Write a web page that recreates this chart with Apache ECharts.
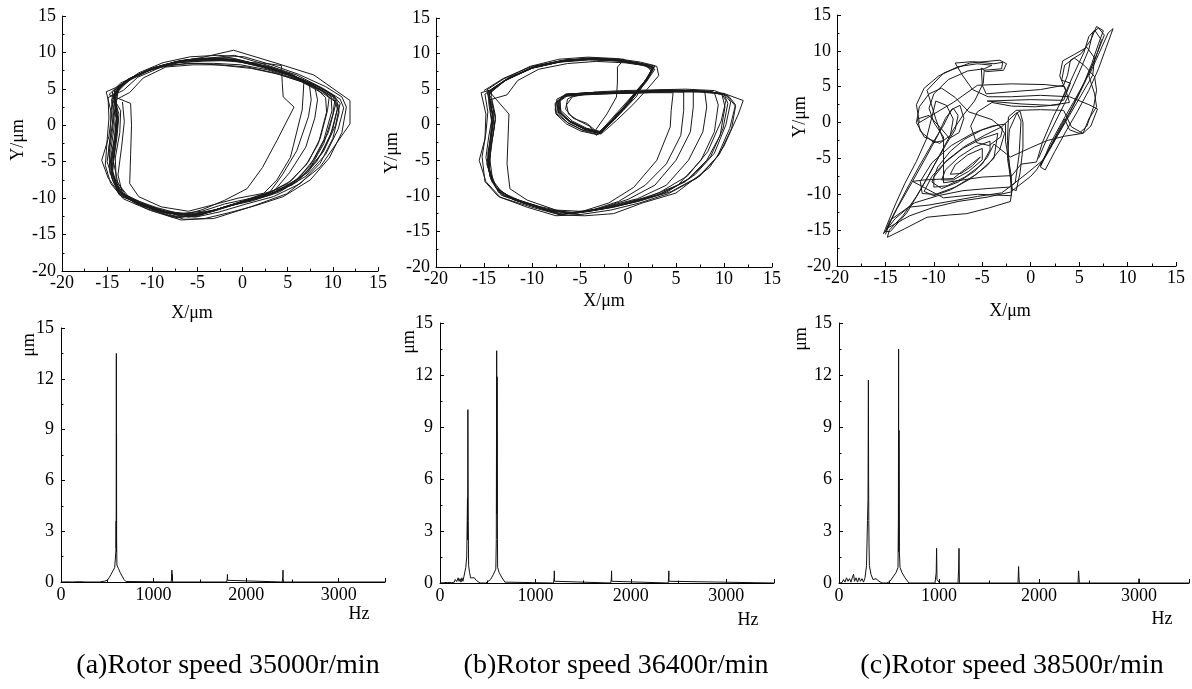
<!DOCTYPE html>
<html><head><meta charset="utf-8">
<script src="https://cdn.jsdelivr.net/npm/echarts@6/dist/echarts.min.js"></script>
<style>html,body{margin:0;padding:0;background:#fff}#c{width:1192px;height:689px}</style>
</head><body><div id="c"></div>
<script>
// ---------- axis ranges / tick labels ----------
const orbitRange = [-20, 15];
const orbitStep = 5;
const freqRange = [0, 3500];
const freqStep = 1000;
const ampRange = [0, 15];
const ampStep = 3;
const captions = ['(a)Rotor speed 35000r/min', '(b)Rotor speed 36400r/min', '(c)Rotor speed 38500r/min'];
const orbitXName = 'X/μm', orbitYName = 'Y/μm', specXName = 'Hz', specYName = 'μm';

// ---------- orbit (a) 35000 r/min : [X, Y] in μm ----------
const orbitA = [
[-14.2,4.0],[-13.0,6.0],[-10.5,7.6],[-7.5,8.7],[-4.5,9.3],[-1.0,10.3],[3.8,8.5],[7.9,6.9],[11.9,3.4],[11.9,0.2],[8.6,-5.7],[4.9,-9.4],[0.9,-11.2],[-3.2,-12.8],[-6.5,-12.9],[-10.0,-11.4],[-13.4,-9.8],[-14.9,-7.2],[-15.6,-4.8],[-14.8,-1.5],[-14.5,1.5],[-15.1,4.6],
[-14.0,5.2],[-12.2,6.6],[-9.6,8.0],[-6.6,8.9],[-3.5,9.0],[-0.5,8.7],[2.5,8.5],[4.3,8.2],[4.4,5.7],[4.5,3.9],[5.7,2.5],[3.8,-2.1],[2.2,-5.8],[0.5,-8.7],[-2.0,-10.3],[-4.5,-11.6],[-6.5,-12.3],[-9.5,-11.3],[-12.5,-10.0],[-13.8,-8.0],[-14.3,-5.0],[-13.9,-1.5],[-13.7,1.5],[-14.2,3.8],
[-13.6,5.5],[-11.5,7.0],[-8.8,8.3],[-5.5,9.1],[-2.5,9.2],[0.5,8.7],[3.5,7.8],[6.8,6.2],[6.7,4.0],[6.6,2.1],[5.3,-4.4],[3.8,-7.5],[2.3,-9.4],[-0.5,-10.6],[-3.5,-11.9],[-6.0,-12.6],[-9.0,-11.8],[-12.0,-10.5],[-13.9,-8.8],[-14.6,-5.5],[-14.2,-2.0],[-14.0,1.0],[-14.5,3.5],
[-13.8,5.0],[-11.8,6.8],[-9.2,8.1],[-6.0,9.0],[-3.0,9.1],[0.0,8.8],[3.0,7.9],[5.8,6.6],[8.0,5.3],[8.3,3.5],[8.0,1.0],[7.0,-3.0],[5.2,-6.5],[3.5,-9.0],[0.5,-10.3],[-2.5,-11.4],[-5.0,-12.4],[-8.0,-12.1],[-11.0,-11.0],[-13.2,-9.6],[-14.4,-7.0],[-14.6,-3.5],[-14.2,0.0],[-14.4,3.2],
[-14.1,4.8],[-12.6,6.4],[-10.1,7.8],[-7.2,8.8],[-4.2,9.0],[-1.2,9.0],[2.0,8.0],[5.0,6.9],[8.2,5.0],[9.2,3.8],[9.3,1.8],[8.4,-2.5],[7.0,-5.5],[5.0,-8.0],[2.0,-9.8],[-1.0,-10.8],[-4.0,-12.0],[-6.8,-12.5],[-10.2,-11.2],[-13.0,-9.8],[-14.2,-7.5],[-14.8,-4.0],[-14.4,-0.5],[-14.1,2.5],
[-14.3,4.3],[-12.8,6.2],[-10.3,7.7],[-7.3,8.6],[-4.3,8.8],[-1.3,8.9],[1.8,8.2],[5.2,7.0],[8.3,5.2],[9.8,4.0],[9.9,2.0],[9.0,-2.0],[7.5,-5.5],[5.5,-8.0],[2.8,-9.6],[-0.3,-10.7],[-3.3,-11.7],[-6.0,-12.2],[-9.0,-11.7],[-12.0,-10.6],[-13.8,-9.0],[-14.6,-6.0],[-14.2,-2.5],[-13.8,0.8],[-14.1,3.0],
[-13.9,4.9],[-12.3,6.5],[-9.8,7.9],[-6.8,8.9],[-3.8,9.1],[-0.8,9.1],[2.2,8.1],[5.5,6.9],[8.6,5.2],[10.2,3.9],[10.5,2.2],[9.7,-1.5],[8.2,-5.0],[6.0,-7.8],[3.0,-9.6],[0.2,-10.5],[-2.8,-11.6],[-5.6,-12.4],[-8.5,-12.0],[-11.5,-10.8],[-13.6,-9.4],[-14.7,-6.5],[-14.8,-3.0],[-14.4,0.3],[-14.5,2.8],
[-14.4,4.6],[-12.9,6.1],[-10.4,7.6],[-7.4,8.7],[-4.4,9.2],[-1.4,9.3],[1.6,8.4],[4.8,7.2],[8.0,5.6],[10.0,4.2],[10.8,3.0],[10.3,0.0],[9.0,-3.5],[7.2,-6.5],[4.5,-8.8],[1.5,-10.1],[-1.5,-11.0],[-4.5,-12.2],[-7.2,-12.7],[-10.5,-11.5],[-13.3,-9.7],[-14.3,-7.8],[-15.0,-5.0],[-14.6,-1.0],[-14.6,2.0],
[-14.0,4.4],[-12.4,6.4],[-9.9,7.8],[-6.9,8.8],[-3.9,9.2],[-0.9,9.6],[2.6,8.3],[6.0,6.9],[9.0,5.0],[10.8,3.6],[11.2,2.4],[10.6,-0.5],[9.2,-4.0],[7.0,-7.0],[4.0,-9.2],[1.0,-10.4],[-2.0,-11.2],[-5.0,-12.5],[-7.8,-12.6],[-11.0,-11.0],[-13.7,-9.5],[-14.5,-7.2],[-14.6,-4.5],[-14.1,-1.0],[-13.9,1.8],
[-14.2,4.8],[-12.7,6.3],[-10.2,7.7],[-7.1,8.7],[-4.1,9.0],[-1.1,9.1],[2.0,8.2],[5.1,7.0],[8.2,5.4],[10.0,4.1],[10.3,2.8],[9.5,-1.0],[8.0,-4.5],[6.2,-7.3],[3.2,-9.4],[0.3,-10.4],[-2.7,-11.5],[-5.4,-12.2],[-8.3,-11.9],[-11.3,-10.7],[-13.5,-9.2],[-14.4,-6.8],[-14.3,-3.3],[-13.9,0.2],[-14.2,3.3],
[-14.1,4.6],[-12.5,6.2],[-10.0,7.7],[-7.0,8.6],[-4.0,8.9],[-1.0,8.9],[2.3,8.0],[5.3,6.8],[8.5,5.0],[9.6,3.9],[9.4,2.0],[8.6,-1.8],[7.3,-5.0],[5.4,-7.6],[2.6,-9.5],[-0.2,-10.6],[-3.2,-11.8],[-5.8,-12.3],[-8.8,-11.8],[-11.8,-10.6],[-13.7,-9.0],[-14.5,-6.2],[-14.1,-2.8],[-13.8,0.5],[-14.0,3.0],
[-13.7,5.3],[-11.9,6.8],[-9.4,8.0],[-6.3,9.0],[-3.3,9.2],[-0.3,8.9],[2.8,8.1],[5.5,7.0],[7.4,5.6],[7.6,3.5],[7.3,1.2],[6.0,-3.5],[4.4,-6.8],[3.0,-9.2],[0.0,-10.5],[-3.0,-11.6],[-5.7,-12.4],[-8.7,-12.0],[-11.7,-10.8],[-13.6,-9.2],[-14.4,-6.3],[-14.1,-2.5],[-13.9,0.8],[-14.2,3.4],
[-12.5,4.5],[-11.0,6.5],[-8.5,8.0],[-5.5,8.3],[-2.5,8.3],[0.5,8.0],[3.5,7.2],[6.5,6.0],[9.0,4.3],[10.2,3.3],[10.0,1.5],[9.0,-2.5],[7.5,-5.8],[5.5,-8.2],[2.5,-9.3],[-0.5,-10.0],[-3.5,-11.0],[-6.0,-11.8],[-9.0,-11.2],[-11.5,-9.8],[-12.5,-8.0],[-12.4,-4.0],[-12.3,0.0],[-12.4,3.0],
[-14.8,4.2],[-13.5,5.8],[-11.0,7.3],[-8.0,8.3],[-5.0,8.5],[-2.0,8.2],[1.0,7.8],[4.0,7.0],[7.0,5.8],[9.5,4.2],[10.6,2.8],[10.0,-0.5],[8.8,-3.8],[6.8,-6.8],[4.0,-9.0],[1.0,-10.0],[-2.0,-10.8],[-4.5,-11.8],[-7.5,-12.2],[-10.5,-11.0],[-13.0,-9.5],[-14.0,-7.5],[-14.1,-4.5],[-13.6,-1.0],[-13.5,2.0],[-14.2,3.5],
[-13.4,5.6],[-11.5,7.2],[-8.8,8.6],[-5.8,9.4],[-2.8,9.6],[0.2,9.4],[3.2,8.3],[6.2,7.0],[9.2,5.3],[11.0,3.9],[11.5,2.5],[11.0,-1.0],[9.6,-4.5],[7.5,-7.5],[4.5,-9.8],[1.5,-11.0],[-1.5,-12.0],[-4.2,-12.8],[-6.8,-13.0],[-10.2,-11.7],[-13.2,-10.1],[-14.6,-8.0],[-15.2,-5.5],[-15.0,-2.0],[-14.8,1.0],[-14.9,3.8],
[-13.2,4.8],[-11.6,6.6],[-9.0,8.0],[-6.2,8.5],[-3.2,8.5],[-0.2,8.3],[2.8,7.6],[5.8,6.4],[8.8,4.8],[10.4,3.6],[10.7,1.8],[10.0,-1.8],[8.6,-5.2],[6.4,-8.0],[3.4,-9.8],[0.4,-10.8],[-2.6,-11.9],[-5.2,-12.6],[-8.2,-12.4],[-11.2,-11.0],[-13.3,-9.4],[-13.8,-6.8],[-13.4,-3.0],[-13.1,0.5],[-13.3,3.2]
];

// ---------- orbit (b) 36400 r/min ----------
const orbitB = [
[-15.0,4.8],[-13.0,6.5],[-10.0,8.2],[-7.0,9.0],[-4.0,9.4],[-1.0,9.2],[1.5,8.6],[3.0,8.2],[3.2,6.9],[2.0,5.0],[0.5,2.8],[-1.2,0.6],[-2.8,-1.3],[-4.8,-0.7],[-6.3,0.3],[-7.6,2.0],[-7.4,3.6],[-6.4,4.3],[-3.5,4.4],[0.0,4.6],[3.5,4.9],[7.0,4.8],[10.0,4.4],[12.0,3.4],[11.5,1.5],[10.0,-3.0],[8.5,-6.0],[5.0,-9.6],[1.5,-11.0],[-1.5,-12.5],[-4.5,-12.8],[-7.0,-12.7],[-10.0,-11.6],[-13.3,-10.2],[-14.8,-8.0],[-15.5,-5.0],[-14.9,-2.0],[-14.8,1.5],[-15.3,4.5],
[-14.3,4.9],[-12.6,6.4],[-9.8,8.1],[-6.8,9.0],[-3.8,9.2],[-0.8,8.9],[1.8,8.3],[2.6,7.7],[1.3,5.3],[0.3,3.3],[-1.4,0.7],[-2.9,-1.2],[-4.6,-0.5],[-6.1,0.5],[-7.1,1.9],[-7.2,3.2],[-6.3,4.1],[-3.8,4.3],[-0.5,4.4],[2.5,4.5],[4.7,4.5],[4.5,2.0],[4.4,-0.3],[3.0,-5.0],[0.6,-8.8],[-2.0,-11.0],[-4.8,-12.2],[-6.8,-12.6],[-9.8,-11.3],[-12.9,-9.9],[-14.1,-7.8],[-14.4,-4.8],[-14.1,-1.8],[-13.8,1.2],[-14.2,3.7],
[-14.6,4.4],[-12.9,6.2],[-10.1,7.9],[-7.1,8.8],[-4.1,9.1],[-1.1,9.0],[1.4,8.4],[2.5,7.9],[2.0,6.3],[0.9,4.6],[-0.2,2.8],[-1.7,0.6],[-3.0,-1.0],[-4.4,-0.7],[-5.9,0.3],[-7.0,1.7],[-7.1,3.4],[-6.5,4.2],[-4.2,4.5],[-1.2,4.6],[2.2,4.7],[5.8,4.6],[5.8,2.0],[5.5,-1.5],[4.0,-5.5],[1.8,-8.5],[-1.0,-10.8],[-3.5,-11.9],[-6.2,-12.4],[-9.2,-11.5],[-12.2,-10.3],[-13.9,-8.6],[-14.7,-5.6],[-14.4,-2.6],[-14.2,0.4],[-14.5,3.0],
[-14.4,4.7],[-12.7,6.3],[-9.9,8.0],[-6.9,8.9],[-3.9,9.3],[-0.9,9.1],[1.6,8.5],[2.7,8.1],[2.1,6.6],[1.1,4.9],[0.1,3.1],[-1.4,0.9],[-2.8,-1.1],[-4.5,-0.5],[-6.0,0.5],[-7.3,1.9],[-7.4,3.3],[-6.5,4.3],[-4.0,4.5],[-0.8,4.6],[2.5,4.7],[6.8,4.7],[6.8,2.5],[6.5,-1.0],[5.0,-5.0],[2.8,-8.5],[0.0,-10.5],[-3.0,-11.8],[-5.8,-12.5],[-8.8,-11.8],[-11.8,-10.5],[-13.7,-9.0],[-14.5,-6.5],[-14.3,-3.2],[-13.9,-0.2],[-14.3,2.8],
[-14.2,5.0],[-12.4,6.6],[-9.6,8.2],[-6.6,9.1],[-3.6,9.3],[-0.6,9.0],[1.9,8.4],[2.8,7.8],[1.9,6.0],[0.8,4.2],[-0.4,2.3],[-1.9,0.3],[-3.1,-1.4],[-4.7,-0.8],[-6.2,0.2],[-7.5,1.6],[-7.5,3.1],[-6.6,4.0],[-4.3,4.3],[-1.3,4.4],[2.0,4.6],[5.5,4.7],[8.0,4.6],[8.2,2.5],[7.8,-1.0],[6.3,-5.0],[4.0,-8.5],[1.0,-10.4],[-2.2,-11.5],[-5.2,-12.4],[-8.2,-12.0],[-11.2,-10.7],[-13.5,-9.3],[-14.4,-7.2],[-14.6,-4.0],[-14.2,-1.0],[-14.0,2.0],
[-14.6,4.5],[-12.9,6.1],[-10.2,7.9],[-7.2,8.8],[-4.2,9.2],[-1.2,9.1],[1.3,8.6],[2.5,8.1],[2.2,6.8],[1.2,5.0],[0.2,3.2],[-1.3,1.0],[-2.7,-1.0],[-4.3,-0.5],[-5.8,0.5],[-7.0,2.0],[-7.1,3.5],[-6.2,4.3],[-3.8,4.5],[-0.7,4.6],[2.7,4.8],[6.2,4.8],[9.0,4.5],[9.4,2.8],[9.0,-1.0],[7.6,-5.0],[5.2,-8.5],[2.0,-10.2],[-1.0,-11.2],[-4.0,-12.2],[-7.2,-12.6],[-10.2,-11.3],[-13.2,-9.9],[-14.3,-7.6],[-14.8,-4.6],[-14.5,-1.6],[-14.1,1.4],[-14.5,3.8],
[-14.3,4.6],[-12.6,6.4],[-9.8,8.1],[-6.8,9.0],[-3.8,9.3],[-0.8,9.1],[1.7,8.5],[2.7,8.0],[2.0,6.4],[1.0,4.7],[0.0,2.9],[-1.5,0.7],[-2.9,-1.3],[-4.6,-0.6],[-6.1,0.4],[-7.3,1.8],[-7.3,3.3],[-6.4,4.2],[-3.9,4.4],[-0.9,4.5],[2.1,4.6],[5.6,4.8],[8.6,4.7],[9.8,4.2],[10.1,2.5],[9.6,-1.5],[8.2,-5.0],[6.0,-8.0],[3.0,-9.9],[0.0,-11.0],[-3.0,-11.9],[-6.0,-12.5],[-9.0,-11.8],[-12.0,-10.5],[-13.8,-8.8],[-14.6,-5.8],[-14.4,-2.8],[-14.0,0.3],[-14.3,3.0],
[-14.5,4.3],[-12.8,6.2],[-10.1,8.0],[-7.1,8.9],[-4.1,9.2],[-1.1,9.0],[1.4,8.5],[2.6,8.1],[2.0,6.6],[1.0,4.8],[-0.1,3.0],[-1.6,0.8],[-3.0,-1.2],[-4.5,-0.6],[-6.0,0.4],[-7.2,1.8],[-7.3,3.3],[-6.4,4.2],[-4.0,4.4],[-1.0,4.5],[2.0,4.6],[5.0,4.8],[8.0,4.7],[10.0,4.3],[10.7,3.2],[10.2,0.0],[9.0,-4.0],[7.0,-7.0],[4.0,-9.5],[1.0,-10.8],[-2.0,-11.7],[-5.0,-12.3],[-7.0,-12.6],[-10.0,-11.4],[-13.0,-10.0],[-14.2,-8.0],[-14.6,-5.0],[-14.3,-2.0],[-14.0,1.0],[-14.4,3.5],
[-12.6,4.2],[-11.5,6.2],[-9.3,7.8],[-6.3,8.6],[-3.3,8.9],[-0.3,8.7],[1.9,8.3],[2.4,7.6],[1.7,6.0],[0.6,4.3],[-0.6,2.5],[-2.0,0.4],[-3.2,-1.4],[-4.9,-0.9],[-6.4,0.1],[-7.5,1.5],[-7.6,3.0],[-6.7,4.0],[-4.4,4.2],[-1.4,4.4],[1.8,4.5],[5.2,4.7],[8.3,4.7],[10.3,4.1],[11.2,2.6],[10.8,-0.5],[9.5,-4.2],[7.5,-7.2],[4.5,-9.4],[1.5,-10.6],[-1.5,-11.6],[-4.5,-12.2],[-7.5,-12.0],[-10.5,-10.6],[-12.3,-9.0],[-12.6,-5.5],[-12.5,-2.0],[-12.4,1.5],
[-14.4,4.6],[-12.7,6.3],[-9.9,8.0],[-6.9,8.9],[-3.9,9.2],[-0.9,9.0],[1.6,8.5],[2.7,8.0],[1.8,6.2],[0.7,4.5],[-0.3,2.7],[-1.8,0.5],[-3.0,-1.1],[-4.6,-0.5],[-6.1,0.5],[-7.2,1.9],[-7.2,3.4],[-6.3,4.3],[-3.9,4.5],[-0.9,4.6],[2.1,4.7],[5.1,4.8],[8.1,4.7],[10.0,4.3],[10.4,3.0],[9.9,-0.5],[8.6,-4.5],[6.5,-7.5],[3.5,-9.7],[0.5,-10.9],[-2.5,-11.8],[-5.5,-12.4],[-8.0,-12.2],[-11.0,-11.0],[-13.5,-9.5],[-14.4,-7.0],[-14.4,-3.5],[-14.1,-0.2],[-14.4,2.8],
[-14.7,4.9],[-13.0,6.4],[-10.2,8.2],[-7.2,9.2],[-4.2,9.5],[-1.2,9.3],[1.3,8.8],[2.8,8.3],[2.3,7.0],[1.5,5.5],[0.9,4.0],[-0.5,2.0],[-2.0,0.0],[-3.3,-1.5],[-4.0,-0.2],[-5.2,0.6],[-6.2,1.5],[-6.4,2.8],[-5.8,3.9],[-3.5,4.6],[-0.5,4.8],[2.8,4.9],[6.0,5.0],[9.0,4.8],[10.5,4.0],[11.2,2.8],[10.6,-0.5],[9.3,-4.5],[7.2,-7.5],[4.2,-9.7],[1.2,-11.0],[-1.8,-12.0],[-4.8,-12.6],[-7.5,-12.8],[-10.5,-11.6],[-13.5,-10.1],[-14.9,-8.0],[-15.2,-4.5],[-14.8,-1.2],[-14.6,1.8],[-14.9,4.3],
[-14.0,5.2],[-12.2,6.8],[-9.4,8.3],[-6.4,9.1],[-3.4,9.3],[-0.4,9.2],[-1.1,8.1],[-1.1,6.0],[-1.2,3.9],[-2.2,1.5],[-3.4,-0.8],[-4.3,0.2],[-5.7,0.9],[-6.5,2.2],[-6.3,3.6],[-5.4,4.3],[-2.8,4.4],[0.6,4.5],[4.0,4.6],[7.5,4.6],[9.8,4.3],[10.2,3.4],[9.7,0.5],[8.3,-3.8],[6.2,-7.2],[3.2,-9.6],[0.2,-10.9],[-2.8,-11.9],[-5.8,-12.5],[-8.8,-11.9],[-11.8,-10.6],[-13.7,-8.9],[-14.5,-6.0],[-14.2,-2.4],[-13.8,0.7],[-14.2,3.4]
];

// ---------- orbit (c) 38500 r/min ----------
const orbitC = [
[-15.0,-15.6],[-14.3,-13.2],[-13.0,-9.8],[-11.6,-6.3],[-10.2,-3.0],[-9.0,-0.4],[-8.2,1.8],[-7.3,2.4],[-6.9,0.6],[-7.4,-1.4],[-8.4,-2.2],[-9.2,-0.9],
[-10.5,1.0],[-11.7,0.5],[-11.4,-1.2],[-10.0,-2.8],[-9.0,-2.5],[-9.8,0.5],[-10.7,4.5],[-9.0,6.9],[-6.3,8.3],[-3.2,8.7],[-2.5,8.2],[-2.8,7.3],[-4.6,7.1],[-5.1,7.6],[-5.0,5.2],[-4.6,4.0],
[-2.0,4.3],[1.0,4.6],[3.4,5.2],[3.8,6.6],[4.1,8.7],[5.2,9.6],[6.2,11.5],[6.8,13.4],[7.5,12.8],[7.0,11.0],[6.3,8.2],[5.5,5.5],[4.4,2.8],[3.2,0.0],[2.0,-3.0],[1.0,-6.2],[1.5,-6.6],[2.5,-4.0],[3.6,-1.3],[4.8,1.5],[6.0,4.5],[7.0,7.5],[7.8,10.5],[8.5,13.1],
[8.0,12.5],[7.0,9.5],[6.0,6.5],[6.6,4.0],[6.8,2.2],[6.0,0.5],[5.4,-1.5],[4.2,-0.6],[3.4,1.7],
[1.0,1.8],[-1.5,1.7],[-2.3,0.8],[-2.4,-2.5],[-2.2,-6.0],[-2.0,-9.2],[-1.5,-9.5],[-1.1,-7.0],[-0.8,-3.5],[-0.8,0.0],[-1.1,1.6],[-1.6,1.2],
[-3.0,-0.6],[-4.8,-1.8],[-6.8,-3.3],[-8.6,-5.2],[-10.2,-7.5],[-11.0,-9.6],[-10.0,-10.2],[-8.3,-9.4],[-6.3,-7.9],[-4.5,-6.0],[-3.2,-3.8],[-2.7,-1.5],[-3.3,-0.3],[-5.0,-1.0],[-6.8,-2.3],[-8.3,-4.0],[-9.6,-6.2],[-10.2,-8.3],[-9.2,-9.2],[-7.5,-8.3],[-5.8,-6.8],[-4.5,-4.9],[-3.8,-3.0],
[-2.1,-4.8],[0.0,-3.5],[1.7,-2.5],[3.5,-1.9],[5.4,-1.5],[6.2,-0.5],[6.9,1.9],[6.0,2.5],[4.0,3.6],[1.0,3.8],[-2.0,3.6],[-4.4,3.6],[-6.0,4.6],[-7.0,6.5],[-7.8,8.3],[-6.0,8.5],[-3.8,8.2],[-2.9,8.4],[-3.0,7.5],[-4.8,7.3],[-4.9,5.5],[-5.8,3.0],[-7.0,1.0],[-8.0,-1.0],[-9.0,-3.5],[-10.3,-6.8],[-11.8,-10.3],[-13.2,-13.0],[-14.6,-15.0],[-14.8,-16.0],[-13.0,-14.8],[-10.7,-13.2],[-8.5,-12.9],[-6.6,-12.7],[-4.3,-11.9],[-2.1,-11.0],[-1.9,-9.2],[-2.4,-5.0],[-2.2,-1.0],[-1.4,1.4],[-1.0,0.2],[-1.2,-4.5],[-1.6,-8.4],[-2.2,-9.0],[-4.5,-9.2],[-7.0,-9.5],[-9.6,-10.2],[-12.0,-11.2],[-14.5,-13.6],[-14.9,-14.8],[-12.5,-13.0],[-10.0,-11.8],[-7.5,-11.0],[-4.5,-10.4],[-2.1,-9.7],
[0.0,-7.5],[0.6,-6.6],[1.8,-4.0],[2.9,-1.5],[4.0,1.0],[5.2,3.8],[6.4,6.6],[6.6,9.0],[5.8,10.5],[4.5,9.5],[3.3,8.6],[3.0,6.5],[3.6,4.5],[3.0,2.5],[0.5,2.2],[-2.0,2.3],[-4.0,2.8],[-5.5,1.5],[-6.2,-0.5],[-5.6,-2.8],[-4.3,-3.2],[-3.1,-2.0],[-2.9,-0.8],[-4.0,0.4],
[-6.4,1.5],[-7.8,3.5],[-9.2,4.8],[-10.5,4.0],[-11.5,2.2],[-11.8,0.0],[-11.0,-2.0],[-9.4,-2.9],[-8.3,-1.8],[-8.0,0.5],[-8.7,2.4],[-9.8,3.0],[-10.2,0.8],[-10.8,-2.4],[-11.8,-5.4],[-13.0,-8.5],[-14.0,-11.5],[-15.0,-14.8],[-15.2,-15.5],[-14.0,-13.4],[-12.6,-11.8],[-10.5,-11.5],[-8.0,-10.9],[-5.5,-10.3],[-3.0,-9.8],[-2.2,-9.0],
[-0.5,-7.2],[1.3,-5.2],[2.8,-1.5],[4.3,2.2],[5.6,5.8],[6.7,9.0],[7.3,11.5],[6.6,12.9],[6.0,12.0],[5.5,9.8],[4.6,7.2],[3.6,4.2],[2.4,1.0],[1.2,-2.8],[0.6,-5.5],[-1.0,-5.8],[-2.0,-7.5],
[-2.6,-2.6],[-2.6,-0.2],[-4.0,-0.5],[-6.0,-1.5],[-8.2,-3.2],[-10.2,-5.6],[-11.4,-8.2],[-11.2,-9.9],[-9.8,-10.0],[-7.8,-9.0],[-5.6,-7.2],[-3.8,-5.0],[-3.4,-1.5],[-5.0,-2.2],[-7.0,-3.6],[-8.8,-5.5],[-10.0,-7.6],[-10.0,-9.0],[-8.6,-8.8],[-6.8,-7.6],[-5.0,-5.8],[-4.2,-3.8],[-4.2,-2.6],[-5.8,-3.4],[-7.4,-4.8],[-8.8,-6.6],[-9.2,-8.0],[-8.0,-8.0],[-6.4,-6.8],[-5.0,-5.2],[-5.0,-3.6],[-6.5,-4.5],[-7.8,-5.9],[-8.3,-7.2],[-7.2,-7.1],[-6.0,-6.0],[-5.2,-4.8],
[-8.0,-7.8],[-11.0,-8.0],[-12.2,-8.2],[-13.8,-12.0],[-15.0,-15.2],[-14.5,-15.2],[-12.8,-12.6],[-11.2,-9.0],[-10.0,-6.0],[-8.8,-3.2],[-7.8,-1.0],[-7.5,1.0],[-8.0,2.0],[-8.8,0.6],[-9.6,-1.8],[-10.8,-4.8],[-12.2,-8.2],
[-9.0,-10.5],[-5.5,-10.0],[-2.0,-10.2],[-2.0,-7.4],[-5.0,-7.6],[-9.0,-8.4],
[-9.0,-2.0],[-10.0,0.0],[-10.5,2.0],[-10.0,4.0],[-8.5,6.0],[-6.5,7.2],[-4.8,7.5],[-4.0,8.0],[-5.5,8.2],[-7.5,7.8],[-9.5,6.5],[-11.0,4.8],[-11.8,2.5],[-11.5,0.0],
[-8.0,2.8],[-5.5,5.2],[-2.0,5.4],[1.5,5.3],[3.5,5.0],[4.0,2.8],[2.0,2.4],[-1.0,2.6],[-4.5,3.0],
[0.0,3.2],[3.4,3.1],[4.1,5.5],[3.2,5.9],[3.5,8.0],[4.5,9.0],[5.5,8.0],[6.6,6.4],[6.8,4.5],[6.5,2.2],[5.8,-0.5],[5.0,-1.5],[4.0,-1.0],[3.5,0.5],
[1.0,-6.0],[2.2,-3.2],[3.5,0.0],[4.8,3.4],[5.9,6.5],[6.9,9.8],[7.6,12.2],[7.0,13.2],[6.4,12.5],[6.0,10.2],[5.0,7.0],[4.0,4.0],[2.8,0.8],[1.6,-2.5],[0.8,-5.0]
];

// ---------- amplitude spectra : [frequency Hz, amplitude μm] ----------
const spectrumA = [
[0,0],[60,0.01],[120,0],[200,0.02],[270,0],[280,0.06],[290,0],[420,0],[440,0.03],[470,0.05],[500,0.1],[520,0.25],[540,0.45],[560,0.65],[580,0.85],[590,0.95],[594,1.9],[596,3.6],[597,2.0],[598,13.5],[599,1.8],[600,8.8],[601,2.5],[602,1.9],[604,1.0],[620,0.8],[640,0.55],[660,0.35],[680,0.15],[700,0.03],[720,0],
[1190,0],[1196,0.3],[1198,0.7],[1200,0.15],[1202,0.45],[1206,0],[1790,0],[1796,0.2],[1798,0.45],[1800,0.1],[1804,0],[2390,0],[2396,0.3],[2398,0.7],[2400,0.2],[2404,0],[3500,0]
];
const spectrumB = [
[0,0],[20,0.05],[40,0.02],[60,0.08],[80,0.03],[100,0.05],[120,0.02],[140,0.12],[150,0.05],[160,0.2],[175,0.08],[190,0.3],[200,0.1],[210,0.25],[220,0.05],[230,0.3],[240,0.1],[250,0.35],[260,0.3],[270,0.9],[280,1.5],[285,3.5],[288,4.9],[290,2.5],[292,10.0],[294,6.6],[296,3.6],[298,2.2],[300,1.0],[310,0.6],[320,0.3],[340,0.2],[360,0.3],[380,0.15],[400,0.05],[420,0],
[480,0],[500,0.05],[530,0.2],[560,0.5],[585,0.8],[590,2.5],[594,13.4],[596,4.0],[598,11.9],[600,8.8],[602,2.5],[604,0.9],[620,0.6],[650,0.3],[680,0.05],[700,0],
[1190,0],[1196,0.3],[1198,0.7],[1200,0.1],[1204,0],[1790,0],[1796,0.3],[1798,0.7],[1800,0.1],[1804,0],[2390,0],[2396,0.3],[2398,0.7],[2400,0.1],[2404,0],[3500,0]
];
const spectrumC = [
[0,0],[15,0.1],[30,0.02],[45,0.2],[60,0.05],[75,0.3],[90,0.1],[105,0.25],[120,0.05],[135,0.35],[146,0.5],[155,0.1],[170,0.3],[185,0.05],[200,0.3],[215,0.1],[230,0.25],[245,0.05],[260,0.3],[275,1.0],[285,3.6],[290,4.8],[294,11.7],[296,6.1],[298,3.6],[300,2.3],[304,1.0],[320,0.5],[340,0.2],[370,0.25],[400,0.1],[430,0],
[480,0],[510,0.1],[540,0.35],[570,0.6],[590,0.9],[594,3.6],[596,13.5],[598,1.8],[600,8.8],[602,5.5],[604,1.8],[610,0.9],[630,0.6],[660,0.3],[700,0],
[960,0],[972,0.6],[976,2.0],[980,0.2],[1000,0.3],[1006,0],[1190,0],[1196,0.8],[1200,2.0],[1204,0],[1790,0],[1796,0.95],[1800,0.3],[1804,0],[2390,0],[2396,0.7],[2400,0.3],[2404,0],[2995,0],[3000,0.25],[3005,0],[3500,0]
];

// ---------- layout ----------
const FONT = '"Liberation Serif","Times New Roman",serif';
const grids = [
  {left: 62, top: 16, width: 316, height: 255},
  {left: 436, top: 18, width: 336, height: 249},
  {left: 837, top: 15, width: 339, height: 251},
  {left: 61, top: 328, width: 324, height: 254},
  {left: 440, top: 323, width: 334, height: 260},
  {left: 839, top: 323, width: 351, height: 260}
];

function makeAxis(idx, min, max, interval, labelMargin, isFreq) {
  return {
    type: 'value', gridIndex: idx, min: min, max: max, interval: interval,
    axisLine: {show: true, onZero: false, lineStyle: {color: '#000', width: 1}},
    axisTick: {show: true, inside: true, length: 4, lineStyle: {color: '#000', width: 1}},
    minorTick: {show: true, splitNumber: 2, length: 2.5, lineStyle: {color: '#000', width: 1}},
    splitLine: {show: false}, minorSplitLine: {show: false},
    axisLabel: {
      color: '#000', fontFamily: FONT, fontSize: 18, margin: labelMargin,
      formatter: isFreq ? function (v) { return v === freqRange[1] ? '' : String(v); } : undefined
    }
  };
}

const xAxes = [], yAxes = [], series = [];
const orbitData = [orbitA, orbitB, orbitC];
const specData = [spectrumA, spectrumB, spectrumC];
for (let i = 0; i < 3; i++) {
  xAxes.push(makeAxis(i, orbitRange[0], orbitRange[1], orbitStep, 3, false));
  yAxes.push(makeAxis(i, orbitRange[0], orbitRange[1], orbitStep, 6, false));
  series.push({type: 'line', xAxisIndex: i, yAxisIndex: i, data: orbitData[i], showSymbol: false, symbol: 'none',
    lineStyle: {color: '#1a1a1a', width: 1}, silent: true});
}
for (let i = 0; i < 3; i++) {
  const g = i + 3;
  xAxes.push(makeAxis(g, freqRange[0], freqRange[1], freqStep, 4, true));
  yAxes.push(makeAxis(g, ampRange[0], ampRange[1], ampStep, 7, false));
  series.push({type: 'line', xAxisIndex: g, yAxisIndex: g, data: specData[i], showSymbol: false, symbol: 'none',
    lineStyle: {color: '#111', width: 1}, silent: true});
}

function txt(text, x, y, size, rot) {
  return {type: 'text', x: x, y: y, rotation: rot ? Math.PI / 2 : 0, silent: true,
    style: {text: text, font: size + 'px ' + FONT, fill: '#000',
      textAlign: 'center', textVerticalAlign: 'middle', align: 'center', verticalAlign: 'middle'}};
}
const graphics = [
  txt(orbitYName, 18, 140, 18, true), txt(orbitXName, 192, 313, 18),
  txt(orbitYName, 392, 153, 18, true), txt(orbitXName, 604, 301, 18),
  txt(orbitYName, 800, 117, 18, true), txt(orbitXName, 1010, 311, 18),
  txt(specYName, 29, 345, 18, true), txt(specXName, 359, 614, 18),
  txt(specYName, 409, 342, 18, true), txt(specXName, 748, 620, 18),
  txt(specYName, 801, 339, 18, true), txt(specXName, 1162, 619, 18),
  txt(captions[0], 228, 666, 28), txt(captions[1], 616, 666, 28), txt(captions[2], 1012, 666, 28)
];

const chart = echarts.init(document.getElementById('c'), null, {renderer: 'canvas'});
chart.setOption({
  animation: false,
  backgroundColor: '#fff',
  grid: grids,
  xAxis: xAxes,
  yAxis: yAxes,
  series: series,
  graphic: graphics
});
</script></body></html>
